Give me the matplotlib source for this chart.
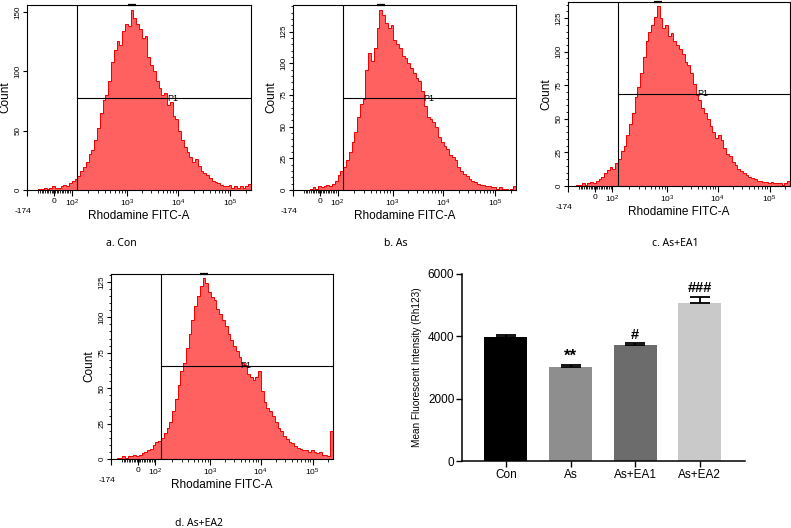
import matplotlib
matplotlib.use("Agg")
import matplotlib.pyplot as plt
import numpy as np

plt.rcParams["font.family"] = ["Liberation Sans", "DejaVu Sans"]
plt.rcParams["mathtext.fontset"] = "custom"
plt.rcParams["mathtext.rm"] = "Liberation Sans"
plt.rcParams["mathtext.it"] = "Liberation Sans:italic"

# ── histogram counts, 80 equal bins across the display axis ──────────
counts_con = [0, 0, 0, 0, 1, 1, 2, 1, 2, 3, 2, 2, 3, 4, 3, 6, 8, 9, 12, 16,
              19, 24, 30, 34, 42, 52, 65, 76, 80, 92, 108, 118, 126, 122, 134, 140, 138, 152, 145, 140,
              136, 128, 130, 112, 105, 100, 92, 86, 80, 82, 72, 74, 62, 60, 50, 42, 36, 32, 28, 24,
              26, 20, 16, 14, 13, 10, 8, 7, 6, 4, 3, 3, 4, 2, 3, 2, 3, 2, 3, 5]
counts_as = [0, 0, 0, 0, 0, 0, 1, 2, 1, 3, 2, 3, 4, 3, 5, 7, 12, 15, 18, 24,
             30, 38, 46, 58, 68, 72, 95, 108, 102, 112, 128, 142, 138, 132, 128, 130, 118, 115, 112, 106,
             104, 100, 96, 92, 88, 86, 78, 66, 58, 56, 54, 50, 42, 38, 35, 32, 28, 26, 24, 18,
             15, 13, 11, 9, 7, 6, 5, 4, 4, 3, 3, 2, 2, 1, 2, 1, 1, 0, 1, 3]
counts_ea1 = [0, 0, 0, 1, 1, 2, 1, 2, 3, 2, 4, 5, 7, 10, 12, 14, 13, 17, 20, 26,
              30, 38, 46, 54, 66, 74, 84, 96, 108, 115, 120, 126, 134, 125, 118, 120, 112, 114, 108, 105,
              102, 98, 92, 90, 84, 76, 68, 64, 58, 54, 50, 45, 40, 36, 38, 34, 28, 24, 22, 18,
              16, 13, 11, 10, 8, 7, 6, 5, 4, 4, 3, 3, 2, 3, 2, 2, 2, 1, 2, 4]
counts_ea2 = [0, 0, 1, 1, 2, 1, 2, 2, 3, 2, 3, 4, 5, 6, 7, 10, 12, 13, 15, 18,
              22, 26, 34, 42, 52, 62, 68, 78, 88, 98, 108, 115, 122, 128, 124, 118, 114, 112, 106, 102,
              98, 94, 88, 84, 80, 76, 72, 68, 66, 60, 58, 56, 58, 62, 48, 40, 36, 34, 30, 26,
              22, 20, 16, 14, 12, 11, 9, 8, 7, 6, 6, 5, 6, 5, 4, 5, 3, 3, 2, 20]

hist_names = ["a. Con", "b. As", "c. As+EA1", "d. As+EA2"]
gate_levels = [77.5, 72.4, 68.7, 65.7]
p1_pos = [0.625, 0.583, 0.581, 0.58]
y_max = [156, 146, 137, 130.5]

# biexponential-style axis: tick positions as fraction of axis width
DEC_POS = [0.2, 0.447, 0.674, 0.908]
XT_POS = [0.12] + DEC_POS
XT_LABELS = ["0", r"$\mathregular{10^2}$", r"$\mathregular{10^3}$",
             r"$\mathregular{10^4}$", r"$\mathregular{10^5}$"]
GATE_X = 0.225

# ── bar chart ─────────────────────────────────────────────────────────
groups = ["Con", "As", "As+EA1", "As+EA2"]
mfi = [3970, 3030, 3720, 5080]
sem = [75, 45, 65, 190]
marks = ["", "**", "#", "###"]
bar_colors = ["#000000", "#8e8e8e", "#6c6c6c", "#c9c9c9"]

W, H = 791, 528
fig = plt.figure(figsize=(W / 100, H / 100), dpi=100)


def px_axes(l, r, t, b):
    return fig.add_axes([l / W, 1 - b / H, (r - l) / W, (b - t) / H])


def hist_panel(ax, counts, ymax, gate_y, p1x, big_ticks):
    counts = np.asarray(counts, dtype=float)
    edges = np.linspace(0, 1, len(counts) + 1)
    ax.stairs(counts, edges, fill=True, color="#ff6060", lw=0)
    ax.stairs(counts, edges, color="#f00000", lw=0.7)
    ax.set_xlim(0, 1)
    ax.set_ylim(0, ymax)
    ax.axvline(GATE_X, color="black", lw=0.8)
    ax.plot([GATE_X, 1], [gate_y, gate_y], color="black", lw=0.8)
    ax.text(p1x, gate_y, "P1", fontsize=6.5, va="center", ha="left")
    i = int(np.argmax(counts))
    ax.plot([edges[i] - 0.012, edges[i + 1] + 0.012], [ymax, ymax],
            color="black", lw=1.6, clip_on=False, solid_capstyle="butt")

    for s in ax.spines.values():
        s.set_linewidth(0.8)

    # x ticks
    minor = list(np.arange(0.05, 0.197, 0.0075))
    for d in range(3):
        minor += [DEC_POS[d] + np.log10(k) * (DEC_POS[d + 1] - DEC_POS[d]) for k in range(2, 10)]
    minor.append(DEC_POS[3] + np.log10(2) * 0.234)
    ax.set_xticks([0.0] + XT_POS)
    ax.set_xticklabels([""] + XT_LABELS, fontsize=6)
    ax.set_xticks(minor, minor=True)
    ax.tick_params(axis="x", which="major", length=4, width=0.8, pad=1.5)
    ax.tick_params(axis="x", which="minor", length=2.2, width=0.6)
    ax.annotate("-174", xy=(0, 0), xycoords="axes fraction", xytext=(-3, -13),
                textcoords="offset points", ha="center", va="top", fontsize=6)
    ax.set_xlabel("Rhodamine FITC-A", fontsize=8.5, labelpad=1)

    # y ticks
    if big_ticks:
        ax.set_yticks([0, 50, 100, 150])
    else:
        ax.set_yticks([0, 25, 50, 75, 100, 125])
        ax.set_yticks(np.arange(0, ymax, 5), minor=True)
    for lab in ax.get_yticklabels():
        lab.set_rotation(90)
        lab.set_va("center")
    ax.tick_params(axis="y", which="major", length=3, width=0.8, labelsize=5.8, pad=1)
    ax.tick_params(axis="y", which="minor", length=1.8, width=0.6)
    ax.set_ylabel("Count", fontsize=8.5, labelpad=2)


boxes = [(27, 251, 5, 190), (293, 516, 5, 190), (568, 790, 2, 186), (111, 333, 274, 459)]
all_counts = [counts_con, counts_as, counts_ea1, counts_ea2]
for k in range(4):
    ax = px_axes(*boxes[k])
    hist_panel(ax, all_counts[k], y_max[k], gate_levels[k], p1_pos[k], k == 0)

cap_xy = [(121, 243), (396, 243), (675, 243), (199, 523)]
for name, (cx, cy) in zip(hist_names, cap_xy):
    fig.text(cx / W, 1 - cy / H, name, fontsize=7.5, family=["Noto Sans", "DejaVu Sans"],
             ha="center", va="center")

# ── bar chart ─────────────────────────────────────────────────────────
bx = px_axes(462, 745, 274, 461)
x = np.arange(len(groups))
bx.bar(x, mfi, width=0.665, color=bar_colors, zorder=2)
bx.errorbar(x, mfi, yerr=[np.zeros(len(sem)), sem], fmt="none", ecolor="black",
            elinewidth=1.3, capsize=7.5, capthick=1.3, zorder=3)
for xi, m, e, t in zip(x, mfi, sem, marks):
    if t:
        bx.annotate(t, (xi, m + e), xytext=(0, 1), textcoords="offset points",
                    ha="center", va="bottom", fontsize=12 if t == "**" else 10.5,
                    fontweight="bold")
bx.set_xlim(-0.68, 3.7)
bx.set_ylim(0, 6000)
bx.set_yticks([0, 2000, 4000, 6000])
bx.set_xticks(x)
bx.set_xticklabels(groups, fontsize=8.5)
bx.tick_params(axis="y", labelsize=8.5, length=4, width=1.0, pad=1.5)
bx.tick_params(axis="x", length=4, width=1.0, pad=2)
bx.spines["top"].set_visible(False)
bx.spines["right"].set_visible(False)
bx.spines["left"].set_linewidth(1.1)
bx.spines["bottom"].set_linewidth(1.1)
bx.set_ylabel("Mean Fluorescent Intensity (Rh123)", fontsize=7.2, labelpad=4)

fig.savefig("out.png", dpi=100)
